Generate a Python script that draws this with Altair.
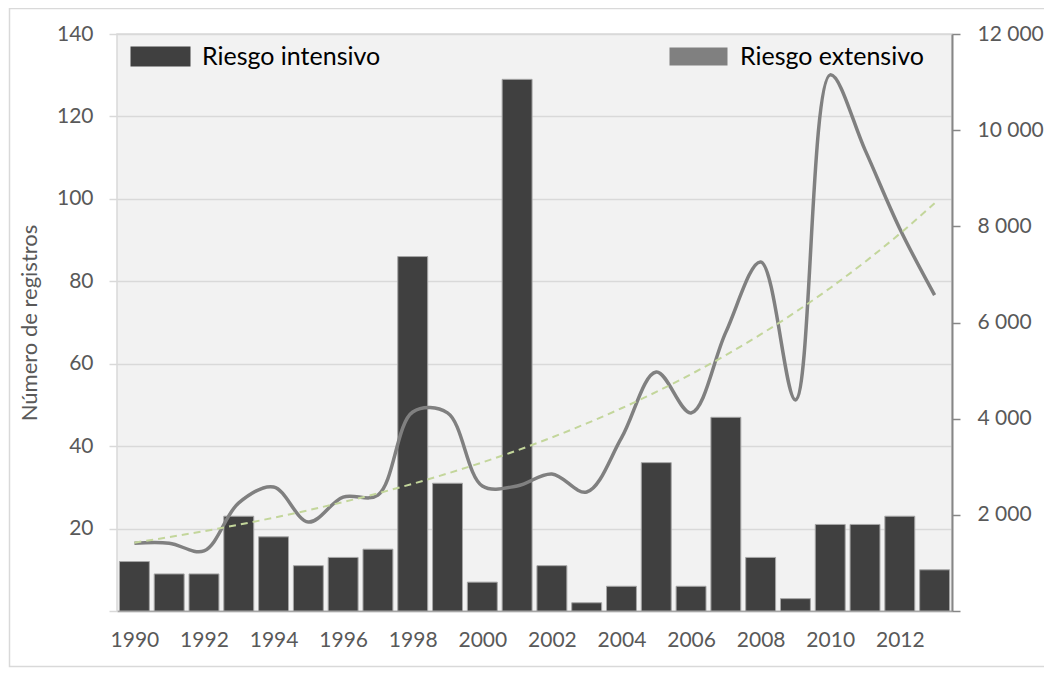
import altair as alt
import pandas as pd

years = list(range(1990, 2014))
intensivo = [12, 9, 9, 23, 18, 11, 13, 15, 86, 31, 7, 129, 11, 2, 6, 36, 6, 47, 13, 3, 21, 21, 23, 10]
extensivo = [1410, 1410, 1250, 2250, 2580, 1850, 2370, 2410, 4140, 4120, 2600, 2600,
             2850, 2475, 3600, 4970, 4120, 5800, 7260, 4390, 11150, 9590, 7950, 6570]
left_ticks = [0, 20, 40, 60, 80, 100, 120, 140]
right_ticks = [0, 2000, 4000, 6000, 8000, 10000, 12000]
label_years = [1990, 1992, 1994, 1996, 1998, 2000, 2002, 2004, 2006, 2008, 2010, 2012]
series_names = ["Riesgo intensivo", "Riesgo extensivo"]

df = pd.DataFrame({"year": years, "intensivo": intensivo, "extensivo": extensivo})

FONT = "Lato"
LABEL = "#595959"
rect_path = "M-1,-1H5V1H-1Z"
line_rect_path = "M-0.825,-0.825H4.825V0.825H-0.825Z"

xscale = alt.Scale(domain=[1989.5, 2013.5], nice=False, zero=False)
xaxis = alt.Axis(values=label_years, format="d", title=None, grid=False, ticks=False,
                 domainColor="#a6a6a6", domainWidth=1.5, labelFontSize=21,
                 labelColor=LABEL, labelPadding=18, labelFont=FONT)
rscale = alt.Scale(domain=[0, 12000], nice=False)
raxis = alt.Axis(orient="right", values=right_ticks, title=None, grid=False,
                 domainColor="#868686", domainWidth=2, tickColor="#868686",
                 tickWidth=1.5, tickSize=8,
                 labelExpr="datum.value == 0 ? '' : replace(format(datum.value, ',d'), ',', ' ')",
                 labelPadding=17, labelFontSize=21, labelColor=LABEL, labelFont=FONT)

bars = alt.Chart(df).transform_calculate(
    x0="datum.year - 0.43", x1="datum.year + 0.43", serie=f"'{series_names[0]}'"
).mark_bar(stroke="#a6a6a6", strokeWidth=1).encode(
    x=alt.X("x0:Q", scale=xscale, axis=xaxis),
    x2="x1:Q",
    y=alt.Y("intensivo:Q", scale=alt.Scale(domain=[0, 140], nice=False),
            axis=alt.Axis(values=left_ticks, title="Número de registros", grid=True,
                          gridColor="#d9d9d9", gridWidth=1.5, tickColor="#d9d9d9",
                          tickSize=8, tickWidth=1.5, domain=False,
                          labelExpr="datum.value == 0 ? '' : datum.label",
                          labelPadding=16, labelFontSize=21, labelColor=LABEL, labelFont=FONT,
                          titleFontSize=22, titleColor=LABEL, titleFontWeight="normal",
                          titleFont=FONT, titlePadding=15)),
    y2=alt.datum(0),
    color=alt.Color("serie:N", scale=alt.Scale(domain=[series_names[0]], range=["#404040"]),
                    legend=alt.Legend(title=None, orient="none", legendX=11, legendY=10,
                                      symbolType=rect_path, symbolSize=400, symbolStrokeWidth=0,
                                      labelFontSize=25, labelColor="#000000", labelOffset=49,
                                      labelLimit=400, labelFont=FONT)),
)

line = alt.Chart(df).transform_calculate(serie=f"'{series_names[1]}'").mark_line(
    interpolate="catmull-rom", strokeWidth=3.5
).encode(
    x=alt.X("year:Q", scale=xscale, axis=xaxis),
    y=alt.Y("extensivo:Q", scale=rscale, axis=raxis),
    color=alt.Color("serie:N", scale=alt.Scale(domain=[series_names[1]], range=["#808080"]),
                    legend=alt.Legend(title=None, orient="none", legendX=549, legendY=10,
                                      symbolType=line_rect_path, symbolSize=400,
                                      symbolFillColor="#808080",
                                      labelFontSize=25, labelColor="#000000", labelOffset=49,
                                      labelLimit=400, labelFont=FONT)),
)

# exponential trend line (least squares on log values), computed by Vega from the data
trend = alt.Chart(df).transform_calculate(
    ly="log(datum.extensivo)", xy="datum.year * log(datum.extensivo)", xx="datum.year * datum.year"
).transform_joinaggregate(
    mx="mean(year)", my="mean(ly)", mxy="mean(xy)", mxx="mean(xx)"
).transform_calculate(
    b="(datum.mxy - datum.mx * datum.my) / (datum.mxx - datum.mx * datum.mx)"
).transform_calculate(
    trendv="exp(datum.my + datum.b * (datum.year - datum.mx))"
).mark_line(
    strokeDash=[7, 5], strokeWidth=2, color="#c3d69b", interpolate="monotone"
).encode(
    x=alt.X("year:Q", scale=xscale, axis=xaxis),
    y=alt.Y("trendv:Q", scale=rscale, axis=raxis),
)

right = alt.layer(line, trend)

# thin light-grey frame around the whole chart area (decoration)
frame = alt.Chart(alt.Data(values=[{"k": 0}])).mark_rect(
    fill=None, stroke="#d9d9d9", strokeWidth=1.5
).encode(
    x=alt.value(-107.5), x2=alt.value(1000), y=alt.value(-25.5), y2=alt.value(632.5)
)

chart = alt.layer(bars, right, frame).resolve_scale(y="independent", color="independent").properties(
    width=835, height=577,
    autosize=alt.AutoSizeParams(type="none"),
    padding={"left": 109, "top": 26, "right": 92, "bottom": 57},
).configure(
    font=FONT,
    view=alt.ViewConfig(fill="#f2f2f2", stroke="#d9d9d9", strokeWidth=1.5),
)

chart.save("out.html", embed_options={"renderer": "svg", "actions": False})
